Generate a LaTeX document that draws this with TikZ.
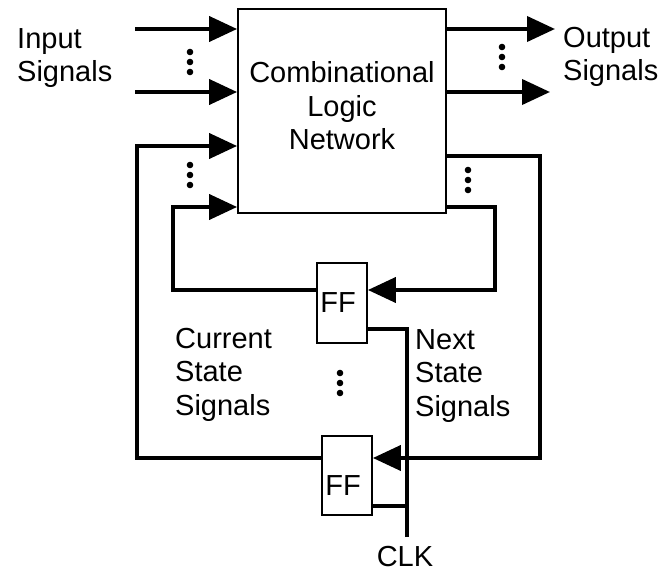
\documentclass[tikz,border=0pt]{standalone}
\usepackage{fontspec}
\setmainfont{Liberation Sans}
\usetikzlibrary{arrows.meta}
\begin{document}
\begin{tikzpicture}[x=1pt,y=-1pt,
  wire/.style={line width=4pt},
  arr/.style={wire,-{Triangle[length=28pt,width=25pt]}},
  blk/.style={draw,line width=1.8pt,inner sep=0pt},
  lbl/.style={font=\fontsize{29}{33.5}\selectfont,inner sep=0pt,align=left},
  vdots3/.pic={\fill (0,-10) circle (3.3pt); \fill (0,0) circle (3.3pt); \fill (0,10) circle (3.3pt);}
  ]
\useasboundingbox (0,0) rectangle (661,572);
% blocks
\node[blk,minimum width=208pt,minimum height=204pt] (clb) at (342,111) {};
\node[lbl,align=center,anchor=base] (clbtext) at (342,150) {Combinational\\Logic\\Network};
\node[blk,lbl,minimum width=50pt,minimum height=80pt] (ff1) at (342,303) {FF\hspace{8pt}};
\node[blk,lbl,minimum width=50pt,minimum height=79pt,text height=39pt,text depth=0pt] (ff2) at (347,475.5) {FF\hspace{8pt}};
% free ends
\coordinate (in1) at (135,29);
\coordinate (in2) at (135,92);
\coordinate (out1) at (555,29);
\coordinate (out2) at (550,92);
\coordinate (clk) at (407,537);
% inputs / outputs
\draw[arr] (in1) -- (in1 -| clb.west);
\draw[arr] (in2) -- (in2 -| clb.west);
\draw[arr] (out1 -| clb.east) -- (out1);
\draw[arr] (out2 -| clb.east) -- (out2);
% next state
\draw[arr] (clb.east |- 0,156) -| (540,458) -- (ff2.east |- 0,458);
\draw[arr] (clb.east |- 0,207) -| (495,290) -- (ff1.east |- 0,290);
% current state
\draw[arr] (ff1.west |- 0,290) -| (173,207) -- (clb.west |- 0,207);
\draw[arr] (ff2.west |- 0,458) -| (137,146) -- (clb.west |- 0,146);
% clock
\draw[wire] (clk) |- (ff1.east |- 0,329);
\draw[wire] (clk |- 0,506) -- (ff2.east |- 0,506);
% dots
\pic at (190,62) {vdots3};
\pic at (190,175) {vdots3};
\pic at (502,57) {vdots3};
\pic at (468,180) {vdots3};
\pic at (340,383) {vdots3};
% labels
\node[lbl,anchor=base west] (inlbl) at (17,82) {Input\\Signals};
\node[lbl,anchor=base west] (outlbl) at (563,81) {Output\\Signals};
\node[lbl,anchor=base west] (curlbl) at (175,415) {Current\\State\\Signals};
\node[lbl,anchor=base west] (nxtlbl) at (415,416) {Next\\State\\Signals};
\node[lbl,anchor=base] (clklbl) at (405,566) {CLK};
\end{tikzpicture}
\end{document}
